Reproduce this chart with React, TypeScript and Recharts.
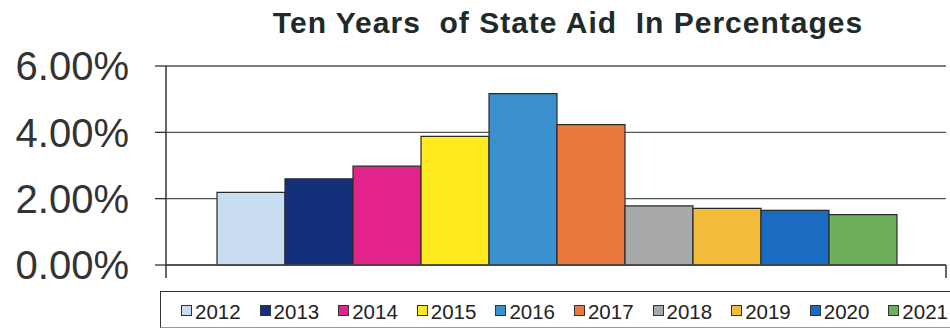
import { BarChart, Bar, XAxis, YAxis, CartesianGrid, Legend } from 'recharts'

// Ten years of state aid
const YEARS = ['2012', '2013', '2014', '2015', '2016', '2017', '2018', '2019', '2020', '2021']
const AID_PCT = [2.19, 2.6, 2.98, 3.88, 5.17, 4.23, 1.78, 1.71, 1.65, 1.52]
const COLORS = ['#C9DDF2', '#14307A', '#E2238C', '#FFE91F', '#3A91CD', '#E97A3C', '#A8A9AB', '#F3BC3A', '#1A6CC2', '#6FAF5C']
const Y_TICKS = [0, 2, 4, 6]

const TITLE = 'Ten Years  of State Aid  In Percentages'
const FONT = '"Liberation Sans", Arial, sans-serif'

const row: Record<string, number | string> = { name: 'Aid' }
YEARS.forEach((y, i) => {
  row[y] = AID_PCT[i]
})
const chartData = [row]

/** Category tick: short marks at both band edges instead of one at the centre (Excel style). */
function EdgeTick(props: any) {
  const { x, y, width, visibleTicksCount, payload } = props
  let half = 0
  if (typeof width === 'number' && width > 0) half = width / (visibleTicksCount || 1) / 2
  else if (typeof payload?.offset === 'number') half = payload.offset
  if (!half) return <g />
  return (
    <g stroke="#333" strokeWidth={1.5}>
      <line x1={x - half} x2={x - half} y1={y} y2={y + 13} />
      <line x1={x + half} x2={x + half} y1={y} y2={y + 13} />
    </g>
  )
}

function LegendBox({ payload }: { payload?: { value: string; color: string }[] }) {
  return (
    <div
      style={{
        boxSizing: 'border-box',
        width: 790,
        height: 37,
        borderTop: '1.5px solid #333',
        borderLeft: '1.5px solid #333',
        borderBottom: '1px solid #999',
        display: 'flex',
        alignItems: 'center',
        paddingLeft: 20,
        paddingTop: 5,
        fontFamily: FONT,
      }}
    >
      {(payload ?? []).map((p) => (
        <div key={p.value} style={{ width: 78.6, display: 'flex', alignItems: 'center', flex: 'none' }}>
          <span
            style={{
              width: 9,
              height: 9,
              background: p.color,
              border: '1px solid #333',
              display: 'inline-block',
              marginRight: 3,
              marginTop: -3,
            }}
          />
          <span style={{ fontSize: 20.5, color: '#222' }}>{p.value}</span>
        </div>
      ))}
    </div>
  )
}

export default function App() {
  return (
    <div style={{ position: 'absolute', left: 0, top: 0, width: 950, height: 329, overflow: 'hidden', background: '#fff' }}>
      <div
        style={{
          position: 'absolute',
          left: 0,
          width: 1136,
          top: 6,
          textAlign: 'center',
          fontFamily: FONT,
          fontWeight: 700,
          fontSize: 30,
          letterSpacing: 1,
          color: '#1f2a2a',
          zIndex: 2,
          whiteSpace: 'pre',
        }}
      >
        {TITLE}
      </div>
      <BarChart
        width={950}
        height={329}
        data={chartData}
        margin={{ top: 66, right: 4, bottom: 50, left: 0 }}
        barCategoryGap={51}
        barGap={0}
      >
        <CartesianGrid vertical={false} stroke="#555" strokeWidth={1.3} />
        <XAxis
          dataKey="name"
          tick={<EdgeTick />}
          tickLine={false}
          tickSize={0}
          tickMargin={0}
          axisLine={{ stroke: '#444', strokeWidth: 1.3 }}
          height={14}
        />
        <YAxis
          domain={[0, 6]}
          ticks={Y_TICKS}
          width={166}
          tickSize={11}
          tickMargin={26}
          tickFormatter={(v: number) => `${v.toFixed(2)}%`}
          tick={{ fontSize: 40, fill: '#333', fontFamily: FONT }}
          tickLine={{ stroke: '#333', strokeWidth: 1.3 }}
          axisLine={{ stroke: '#333', strokeWidth: 1.5 }}
        />
        <Legend
          layout="horizontal"
          verticalAlign="middle"
          align="center"
          wrapperStyle={{ left: 160, top: 291, width: 790, height: 37 }}
          content={(props: any) => <LegendBox payload={props.payload} />}
        />
        {YEARS.map((y, i) => (
          <Bar key={y} dataKey={y} name={y} fill={COLORS[i]} stroke="#2a2a2a" strokeWidth={1.2} isAnimationActive={false} />
        ))}
      </BarChart>
    </div>
  )
}
